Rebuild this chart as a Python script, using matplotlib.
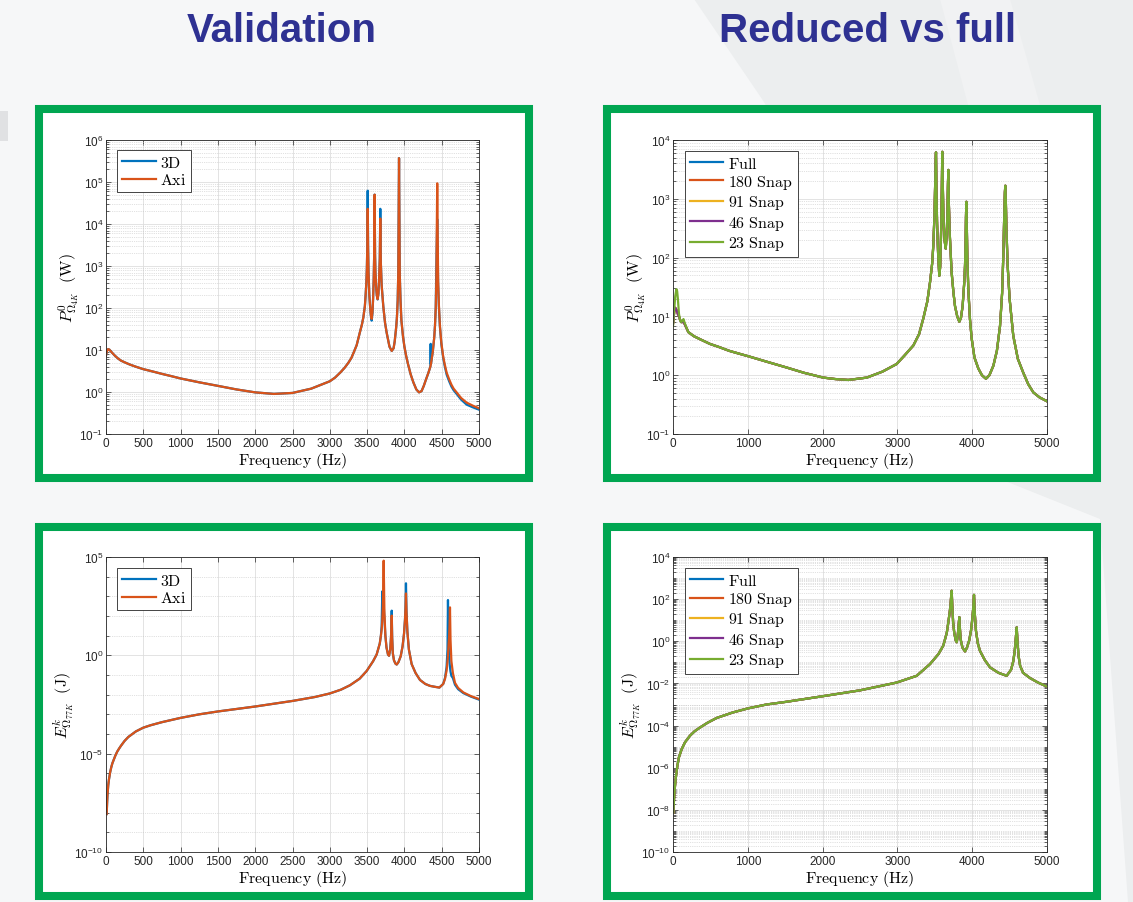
import matplotlib

matplotlib.use("Agg")
import matplotlib.pyplot as plt
from matplotlib.patches import Polygon, Rectangle
from matplotlib.ticker import FixedLocator, LogLocator, MultipleLocator, NullFormatter

W, H = 1133, 903

# --- dissipated power, 3D vs axisymmetric model ---
F_P_VAL = [0, 10, 20, 30, 45, 60, 90, 120, 160, 200,
           260, 320, 400, 500, 620, 750, 870, 1000, 1250, 1500,
           1750, 2000, 2250, 2500, 2750, 3000, 3070, 3140, 3200, 3250,
           3290, 3320, 3360, 3400, 3430, 3450, 3470, 3480, 3490, 3497,
           3503, 3508, 3513, 3519, 3530, 3540, 3550, 3561, 3572, 3580,
           3588, 3594, 3601, 3607, 3612, 3620, 3630, 3641, 3652, 3660,
           3670, 3677, 3684, 3695, 3717, 3740, 3762, 3800, 3830, 3855,
           3870, 3890, 3900, 3910, 3918, 3928, 3938, 3948, 3960, 3980,
           4000, 4025, 4050, 4085, 4120, 4160, 4196, 4230, 4260, 4290,
           4320, 4348, 4352, 4356, 4380, 4400, 4410, 4420, 4428, 4440,
           4452, 4462, 4476, 4495, 4520, 4540, 4566, 4600, 4630, 4660,
           4700, 4760, 4834, 4920, 5000]
P_AXI = [7.4, 9.0, 10.2, 10.5, 10.2, 9.5, 8.3, 7.3, 6.3, 5.6,
         5.0, 4.5, 4.0, 3.5, 3.1, 2.7, 2.4, 2.1, 1.7, 1.4,
         1.15, 0.98, 0.9, 0.95, 1.2, 1.8, 2.2, 2.9, 3.8, 5.0,
         6.5, 8.7, 13, 25, 40, 60, 110, 200, 400, 900,
         3000, 2.3e4, 3000, 700, 200, 110, 70, 55, 80, 160,
         450, 1500, 5.0e4, 1800, 700, 330, 200, 162, 220, 450,
         1500, 1.35e4, 1200, 350, 110, 45, 26, 12, 9.5, 11,
         16, 35, 60, 150, 700, 3.7e5, 600, 150, 50, 22,
         12, 7, 4.5, 2.6, 1.7, 1.15, 0.98, 1.05, 1.4, 2.0,
         2.8, 4.0, 4.3, 4.7, 9, 20, 38, 100, 450, 9.3e4,
         450, 120, 38, 15, 7, 4.6, 2.9, 2.0, 1.5, 1.2,
         0.98, 0.72, 0.56, 0.47, 0.41]
P_3D = [7.4, 9.0, 10.2, 10.5, 10.2, 9.5, 8.3, 7.3, 6.3, 5.6,
        5.0, 4.5, 4.0, 3.5, 3.1, 2.7, 2.4, 2.1, 1.7, 1.4,
        1.15, 0.98, 0.9, 0.95, 1.2, 1.8, 2.2, 2.9, 3.8, 5.0,
        6.5, 8.7, 13, 25, 40, 60, 110, 200, 400, 900,
        3000, 6.2e4, 3000, 700, 200, 110, 65, 50, 75, 160,
        450, 1500, 5.0e4, 1800, 700, 330, 200, 160, 220, 450,
        1500, 2.3e4, 1200, 350, 110, 45, 26, 12, 9.5, 11,
        16, 35, 60, 150, 700, 3.7e5, 600, 150, 50, 22,
        12, 7, 4.5, 2.6, 1.7, 1.15, 0.98, 1.05, 1.4, 2.0,
        2.8, 4.0, 14, 4.7, 9, 20, 38, 100, 1000, 1.3e4,
        400, 110, 36, 14, 6.5, 4.2, 2.6, 1.8, 1.35, 1.1,
        0.9, 0.66, 0.5, 0.43, 0.38]

# --- dissipated power, full model vs reduced bases ---
F_P_RED = [0, 10, 20, 30, 45, 55, 65, 80, 94, 110,
           125, 140, 160, 205, 280, 360, 495, 620, 750, 870,
           1007, 1250, 1520, 1750, 2010, 2170, 2344, 2590, 2800, 2990,
           3100, 3213, 3290, 3346, 3400, 3436, 3465, 3480, 3495, 3505,
           3510, 3516, 3522, 3530, 3545, 3560, 3572, 3585, 3594, 3600,
           3606, 3615, 3630, 3646, 3660, 3670, 3676, 3681, 3687, 3700,
           3725, 3750, 3770, 3800, 3828, 3850, 3872, 3895, 3904, 3912,
           3917, 3922, 3927, 3935, 3948, 3970, 3993, 4030, 4082, 4130,
           4184, 4230, 4283, 4330, 4372, 4400, 4416, 4428, 4437, 4443,
           4449, 4458, 4474, 4500, 4549, 4610, 4683, 4750, 4817, 4900,
           5000]
P_RED_23 = [6.9, 11, 15, 22, 29, 27, 20, 11, 8.6, 8.0,
            8.5, 9.0, 7.5, 5.4, 4.6, 4.1, 3.4, 3.0, 2.6, 2.35,
            2.1, 1.7, 1.35, 1.1, 0.91, 0.86, 0.83, 0.91, 1.15, 1.55,
            2.2, 3.2, 5.0, 9.2, 18, 38, 80, 160, 500, 1800,
            4000, 6.2e3, 1500, 400, 110, 49, 70, 300, 1500, 6.3e3,
            2000, 500, 200, 142, 250, 700, 1800, 3.1e3, 900, 250,
            56, 25, 15, 10, 8.1, 9.5, 15, 40, 73, 200,
            500, 890, 400, 100, 29, 9, 4.2, 2.0, 1.3, 1.0,
            0.87, 1.0, 1.45, 2.6, 6.9, 25, 107, 500, 1300, 1.67e3,
            1000, 300, 73, 20, 4.7, 1.9, 1.1, 0.7, 0.51, 0.42,
            0.36]
# the larger bases only part from the 23-snapshot one below ~200 Hz
P_RED_LOW = [7.5, 10, 13, 14, 13, 12, 11, 10, 8.8, 8.0, 8.0, 8.2, 7.2]
P_RED_FULL = P_RED_LOW + P_RED_23[13:]
P_RED_180 = P_RED_LOW + P_RED_23[13:]
P_RED_91 = P_RED_LOW + P_RED_23[13:]
P_RED_46 = P_RED_LOW + P_RED_23[13:]

# --- kinetic energy, 3D vs axisymmetric model ---
F_E_VAL = [9, 15, 20, 30, 40, 55, 70, 85, 100, 125,
           150, 175, 200, 250, 300, 400, 500, 600, 750, 1000,
           1250, 1500, 2000, 2500, 2800, 3000, 3150, 3270, 3400, 3494,
           3580, 3628, 3670, 3685, 3695, 3704, 3712, 3722, 3732, 3745,
           3760, 3780, 3794, 3810, 3820, 3825, 3830, 3836, 3845, 3860,
           3880, 3897, 3920, 3950, 3975, 3995, 4008, 4015, 4021, 4028,
           4040, 4060, 4097, 4150, 4209, 4280, 4343, 4410, 4469, 4520,
           4544, 4565, 4578, 4584, 4592, 4600, 4606, 4611, 4618, 4630,
           4650, 4678, 4720, 4790, 4890, 5000]
E_AXI = [8.5e-9, 3.2e-8, 7.9e-8, 2.5e-7, 5.0e-7, 1.1e-6, 2.0e-6, 3.2e-6, 4.5e-6, 7.9e-6,
         1.26e-5, 1.8e-5, 2.5e-5, 4.5e-5, 7.1e-5, 1.35e-4, 2.1e-4, 2.8e-4, 4.0e-4, 6.6e-4,
         1.0e-3, 1.4e-3, 2.5e-3, 4.8e-3, 7.6e-3, 1.15e-2, 1.8e-2, 3.0e-2, 6.5e-2, 0.16,
         0.5, 1.1, 4.0, 10, 20, 63, 316, 6.5e4, 160, 10,
         2.5, 1.1, 0.95, 2.0, 7.9, 20, 105, 7.9, 1.26, 0.56,
         0.38, 0.34, 0.45, 0.89, 2.8, 12.6, 63, 250, 1.4e3, 160,
         16, 2.0, 0.36, 0.126, 0.056, 0.035, 0.028, 0.025, 0.023, 0.035,
         0.063, 0.16, 0.5, 1.0, 3.2, 10, 40, 275, 6.3, 0.5,
         0.126, 0.04, 0.022, 0.013, 8.5e-3, 6.0e-3]
E_3D = [8.5e-9, 3.2e-8, 7.9e-8, 2.5e-7, 5.0e-7, 1.1e-6, 2.0e-6, 3.2e-6, 4.5e-6, 7.9e-6,
        1.26e-5, 1.8e-5, 2.5e-5, 4.5e-5, 7.1e-5, 1.35e-4, 2.1e-4, 2.8e-4, 4.0e-4, 6.6e-4,
        1.0e-3, 1.4e-3, 2.5e-3, 4.8e-3, 7.6e-3, 1.15e-2, 1.8e-2, 3.0e-2, 6.5e-2, 0.16,
        0.5, 1.1, 4.0, 10, 30, 1.8e3, 120, 400, 80, 10,
        2.5, 1.1, 0.95, 2.0, 7.9, 25, 187, 7.9, 1.26, 0.56,
        0.38, 0.34, 0.45, 0.89, 2.8, 12.6, 70, 300, 4.6e3, 180,
        16, 2.0, 0.36, 0.126, 0.056, 0.035, 0.028, 0.025, 0.023, 0.035,
        0.07, 0.25, 2.0, 650, 4.0, 0.9, 0.4, 0.25, 0.15, 0.09,
        0.07, 0.032, 0.019, 0.012, 8.0e-3, 5.6e-3]

# --- kinetic energy, full model vs reduced bases ---
F_E_RED = [5, 15, 27, 40, 58, 80, 116, 160, 227, 290,
           361, 460, 584, 800, 1007, 1250, 1520, 2010, 2500, 2990,
           3258, 3436, 3550, 3614, 3660, 3681, 3700, 3712, 3720, 3726,
           3732, 3745, 3760, 3780, 3793, 3805, 3815, 3822, 3828, 3834,
           3845, 3870, 3904, 3930, 3960, 3984, 4000, 4012, 4024, 4035,
           4050, 4075, 4104, 4170, 4238, 4350, 4461, 4520, 4551, 4570,
           4582, 4595, 4605, 4620, 4640, 4680, 4773, 4880, 5000]
E_RED_23 = [7.4e-9, 4.0e-8, 1.4e-7, 4.0e-7, 1.2e-6, 3.2e-6, 7.6e-6, 1.6e-5, 3.3e-5, 5.4e-5,
            8.1e-5, 1.35e-4, 2.3e-4, 4.2e-4, 6.6e-4, 1.0e-3, 1.35e-3, 2.5e-3, 4.7e-3, 1.1e-2,
            2.3e-2, 8.3e-2, 0.25, 0.63, 2.5, 8, 25, 63, 160, 250,
            63, 8, 2.5, 1.1, 0.9, 1.6, 4.0, 8, 14, 5.0,
            1.26, 0.5, 0.33, 0.5, 1.1, 3.2, 10, 32, 160, 20,
            3.2, 0.8, 0.35, 0.126, 0.058, 0.032, 0.023, 0.045, 0.12, 0.4,
            1.26, 4.6, 1.0, 0.2, 0.07, 0.032, 0.018, 0.011, 7.1e-3]
E_RED_FULL = E_RED_23
E_RED_180 = E_RED_23
E_RED_91 = E_RED_23
E_RED_46 = E_RED_23

VAL_LABELS = ["3D", "Axi"]
RED_LABELS = ["Full", "180 Snap", "91 Snap", "46 Snap", "23 Snap"]
VAL_COLORS = ["#0072BD", "#D95319"]
RED_COLORS = ["#0072BD", "#D95319", "#EDB120", "#7E2F8E", "#77AC30"]

GREEN = "#00A651"
TITLE_BLUE = "#2E3192"
INK = "#262626"

plt.rcParams["font.family"] = ["Liberation Sans", "DejaVu Sans"]
plt.rcParams["mathtext.fontset"] = "cm"
plt.rcParams["axes.unicode_minus"] = True

fig = plt.figure(figsize=(W / 100, H / 100), dpi=100)
fig.patch.set_facecolor("#F6F7F8")

# slide background, drawn in pixel coordinates
bg = fig.add_axes([0, 0, 1, 1], zorder=0)
bg.set_xlim(0, W)
bg.set_ylim(H, 0)
bg.axis("off")
bg.add_patch(Polygon([(694, 0), (W, 0), (W, H), (1128, H), (1100, 520), (1000, 480), (762, 100)],
                     closed=True, facecolor="#ECEEEF", edgecolor="none"))
bg.add_patch(Polygon([(940, 0), (1010, 0), (1040, 106), (968, 106)],
                     closed=True, facecolor="#F1F2F3", edgecolor="none"))
bg.add_patch(Rectangle((0, 112), 8, 30, facecolor="#E0E1E3", edgecolor="none"))

for x0, y0 in [(35, 106), (603, 106), (35, 524), (603, 524)]:
    bg.add_patch(Rectangle((x0 + 4, y0 + 4), 490, 369, facecolor="white",
                           edgecolor=GREEN, linewidth=5.8))

for xc, title in [(282, "Validation"), (868, "Reduced vs full")]:
    fig.text(xc / W, 1 - 31 / H, title, ha="center", va="center", fontsize=29,
             fontweight="bold", color=TITLE_BLUE)


def make_axes(x0, y0, x1, y1):
    ax = fig.add_axes([x0 / W, 1 - y1 / H, (x1 - x0) / W, (y1 - y0) / H], zorder=2)
    ax.set_facecolor("white")
    for s in ax.spines.values():
        s.set_color(INK)
        s.set_linewidth(0.6)
    ax.tick_params(which="both", direction="in", top=True, right=True, colors=INK,
                   labelsize=8.5, pad=2, width=0.5)
    ax.tick_params(which="major", length=3.5)
    ax.tick_params(which="minor", length=2)
    return ax


def style_grid(ax):
    ax.grid(which="major", color="#DEDEDE", linewidth=0.6, linestyle="-")
    ax.grid(which="minor", axis="y", color="#C4C4C4", linewidth=0.5, linestyle=":")


def add_legend(ax, x, y):
    leg = ax.legend(loc="upper left", bbox_to_anchor=(x, y), borderaxespad=0, fontsize=11.5,
                    handlelength=2.1, handletextpad=0.3, labelspacing=0.15, borderpad=0.3,
                    fancybox=False, framealpha=1, edgecolor=INK)
    leg.get_frame().set_linewidth(0.6)


def tex_label(lab):
    return "$\\mathrm{" + lab.replace(" ", "\\ ") + "}$"


xlab = r"$\mathrm{Frequency\ (Hz)}$"
ylab_p = r"$P^{0}_{\Omega_{4K}}\ \ (\mathrm{W})$"
ylab_e = r"$E^{k}_{\Omega_{77K}}\ \ (\mathrm{J})$"
minor_subs = (2, 3, 4, 5, 6, 7, 8, 9)

# top left: power validation
ax = make_axes(106, 141, 479, 435)
for vals, lab, col in zip([P_3D, P_AXI], VAL_LABELS, VAL_COLORS):
    ax.plot(F_P_VAL, vals, color=col, lw=1.6, label=tex_label(lab))
ax.set_yscale("log")
ax.set_xlim(0, 5000)
ax.set_ylim(1e-1, 1e6)
ax.xaxis.set_major_locator(MultipleLocator(500))
ax.yaxis.set_major_locator(LogLocator(base=10, numticks=20))
ax.yaxis.set_minor_locator(LogLocator(base=10, subs=minor_subs, numticks=100))
ax.yaxis.set_minor_formatter(NullFormatter())
style_grid(ax)
ax.set_xlabel(xlab, fontsize=11.5, labelpad=1)
ax.set_ylabel(ylab_p, fontsize=11.5, labelpad=-1.5)
add_legend(ax, 0.03, 0.966)

# top right: power, reduced bases
ax = make_axes(673, 141, 1047, 435)
red_p = [P_RED_FULL, P_RED_180, P_RED_91, P_RED_46, P_RED_23]
for vals, lab, col in zip(red_p, RED_LABELS, RED_COLORS):
    ax.plot(F_P_RED, vals, color=col, lw=1.6, label=tex_label(lab))
ax.set_yscale("log")
ax.set_xlim(0, 5000)
ax.set_ylim(1e-1, 1e4)
ax.xaxis.set_major_locator(MultipleLocator(1000))
ax.yaxis.set_major_locator(LogLocator(base=10, numticks=20))
ax.yaxis.set_minor_locator(LogLocator(base=10, subs=minor_subs, numticks=100))
ax.yaxis.set_minor_formatter(NullFormatter())
style_grid(ax)
ax.set_xlabel(xlab, fontsize=11.5, labelpad=1)
ax.set_ylabel(ylab_p, fontsize=11.5, labelpad=-1.5)
add_legend(ax, 0.032, 0.963)

# bottom left: kinetic energy validation
ax = make_axes(106, 558, 479, 853)
for vals, lab, col in zip([E_3D, E_AXI], VAL_LABELS, VAL_COLORS):
    ax.plot(F_E_VAL, vals, color=col, lw=1.6, label=tex_label(lab))
ax.set_yscale("log")
ax.set_xlim(0, 5000)
ax.set_ylim(1e-10, 1e5)
ax.xaxis.set_major_locator(MultipleLocator(500))
ax.yaxis.set_major_locator(FixedLocator([1e-10, 1e-5, 1e0, 1e5]))
ax.yaxis.set_minor_locator(FixedLocator([10.0 ** k for k in range(-10, 6)]))
ax.yaxis.set_minor_formatter(NullFormatter())
style_grid(ax)
ax.set_xlabel(xlab, fontsize=11.5, labelpad=1)
ax.set_ylabel(ylab_e, fontsize=11.5, labelpad=-1.5)
add_legend(ax, 0.03, 0.963)

# bottom right: kinetic energy, reduced bases
ax = make_axes(673, 558, 1047, 853)
red_e = [E_RED_FULL, E_RED_180, E_RED_91, E_RED_46, E_RED_23]
for vals, lab, col in zip(red_e, RED_LABELS, RED_COLORS):
    ax.plot(F_E_RED, vals, color=col, lw=1.6, label=tex_label(lab))
ax.set_yscale("log")
ax.set_xlim(0, 5000)
ax.set_ylim(1e-10, 1e4)
ax.xaxis.set_major_locator(MultipleLocator(1000))
ax.yaxis.set_major_locator(FixedLocator([10.0 ** k for k in range(-10, 5, 2)]))
ax.yaxis.set_minor_locator(LogLocator(base=10, subs=(1, 2, 3, 4, 5, 6, 7, 8, 9), numticks=200))
ax.yaxis.set_minor_formatter(NullFormatter())
style_grid(ax)
ax.set_xlabel(xlab, fontsize=11.5, labelpad=1)
ax.set_ylabel(ylab_e, fontsize=11.5, labelpad=-1.5)
add_legend(ax, 0.032, 0.963)

fig.savefig("out.png", dpi=100, facecolor=fig.get_facecolor())
